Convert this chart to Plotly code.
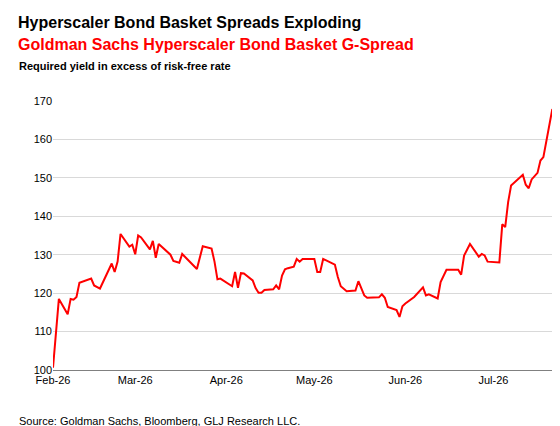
import pandas as pd
import plotly.graph_objects as go

# days since 1 Feb 2026 and G-spread (bp)
days = [0, 2, 5, 6, 7, 8, 9, 13, 14, 16, 20, 21, 22, 23, 26, 27, 28, 29, 30, 33,
        34, 35, 36, 40, 41, 43, 44, 49, 51, 54, 55, 56, 57, 61, 62, 63, 64, 65, 68, 69,
        70, 71, 72, 75, 76, 77, 78, 79, 80, 82, 83, 84, 85, 89, 90, 91, 92, 96, 97, 98,
        100, 103, 104, 106, 107, 111, 112, 113, 114, 117, 118, 119, 120, 123, 126, 127, 128, 131, 132, 134,
        138, 139, 140, 142, 145, 146, 147, 148, 152, 153, 154, 155, 156, 160, 161, 162, 163, 165, 166, 167,
        170, 173]
spread = [100.6, 118.5, 114.5, 118.5, 118.3, 119.0, 122.7, 123.8, 122.0, 121.2, 127.7, 125.5, 128.2, 135.4, 132.1, 132.6, 130.1, 135.0, 134.5, 131.4,
          133.6, 129.2, 132.8, 130.0, 128.4, 127.9, 130.2, 126.3, 132.2, 131.6, 128.2, 123.6, 123.8, 121.8, 125.5, 121.4, 125.2, 125.1, 123.3, 121.3,
          120.1, 120.1, 120.8, 121.0, 122.0, 121.0, 124.6, 126.2, 126.5, 126.9, 128.9, 128.2, 128.9, 128.9, 125.5, 125.5, 128.9, 127.4, 124.2, 121.8,
          120.5, 120.7, 123.1, 119.4, 118.8, 118.9, 119.7, 118.8, 116.4, 115.6, 113.8, 116.6, 117.3, 119.0, 121.5, 119.4, 119.7, 118.6, 122.9, 126.1,
          126.1, 124.8, 129.8, 132.8, 129.5, 130.2, 129.8, 128.2, 128.0, 137.9, 137.2, 143.7, 148.0, 150.8, 148.2, 147.3, 149.6, 151.3, 154.5, 155.4,
          167.7, 168.5]

dates = pd.Timestamp("2026-02-01") + pd.to_timedelta(days, unit="D")

font = "Liberation Sans, Arial, sans-serif"
L, R, T, B = 45, 7, 93, 64
W, H = 560, 426

fig = go.Figure(go.Scatter(x=dates, y=spread, mode="lines",
                           line=dict(color="#FF0000", width=2)))

fig.update_layout(
    width=W, height=H, margin=dict(l=L, r=R, t=T, b=B, autoexpand=False),
    plot_bgcolor="white", paper_bgcolor="white", showlegend=False,
    font=dict(family=font, size=11, color="#000000"),
)
fig.update_xaxes(range=["2026-02-01", "2026-07-24"], dtick="M1", tickformat="%b-%y",
                 tick0="2026-02-01", showgrid=False, showline=True, linecolor="#808080",
                 ticks="", tickfont=dict(size=11))
fig.update_yaxes(range=[100, 170], dtick=10, showgrid=True, gridcolor="#D9D9D9",
                 zeroline=False, ticks="", tickfont=dict(size=11))

annos = [
    ("<b>Hyperscaler Bond Basket Spreads Exploding</b>", 8, 15, "#000000", 16),
    ("<b>Goldman Sachs Hyperscaler Bond Basket G-Spread</b>", 8, 36, "#FF0000", 16),
    ("<b>Required yield in excess of risk-free rate</b>", 9, 58, "#000000", 11),
    ("Source: Goldman Sachs, Bloomberg, GLJ Research LLC.", 9, 413, "#000000", 11),
]
pw, ph = W - L - R, H - T - B
for text, x, y, color, size in annos:
    fig.add_annotation(text=text, xref="paper", yref="paper",
                       x=(x - L) / pw, y=(H - B - y) / ph,
                       xanchor="left", yanchor="middle", showarrow=False,
                       font=dict(family=font, size=size, color=color))

fig.write_html("out.html")
